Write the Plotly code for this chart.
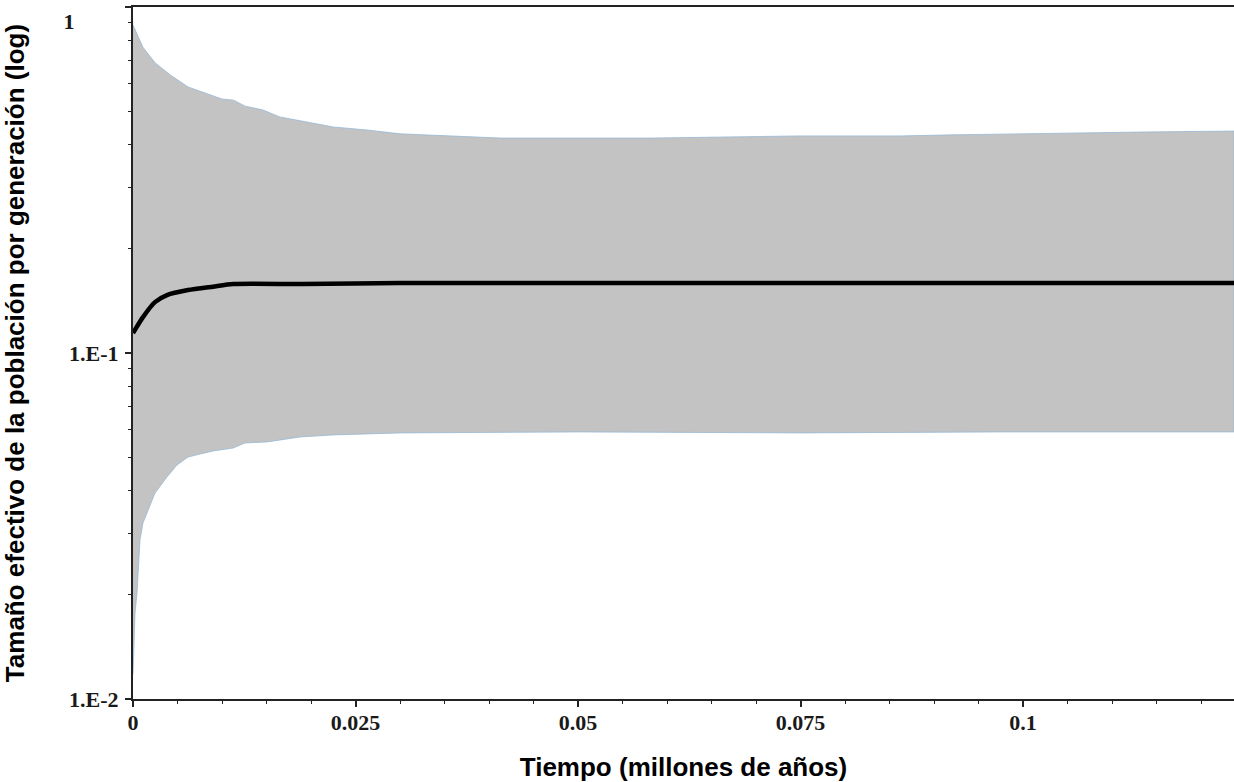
import plotly.graph_objects as go

# Time (millions of years)
t_upper = [0, 0.0011, 0.0025, 0.0042, 0.0062, 0.0075, 0.0100, 0.0113, 0.0126, 0.0146,
           0.0165, 0.0188, 0.0225, 0.0263, 0.0300, 0.0413, 0.0503, 0.0582, 0.0750,
           0.0863, 0.0920, 0.1050, 0.1130, 0.1237]
upper = [0.887, 0.766, 0.689, 0.636, 0.587, 0.572, 0.542, 0.538, 0.517, 0.504,
         0.481, 0.469, 0.450, 0.441, 0.430, 0.418, 0.418, 0.418, 0.424,
         0.424, 0.427, 0.433, 0.435, 0.438]

t_lower = [0, 0.000225, 0.00045, 0.00079, 0.00112, 0.00247, 0.00382, 0.00494, 0.00618,
           0.00753, 0.00899, 0.01124, 0.01258, 0.01506, 0.01876, 0.02247, 0.0300,
           0.0502, 0.0749, 0.0974, 0.1237]
lower = [0.0118, 0.01774, 0.02025, 0.02884, 0.03227, 0.03936, 0.04385, 0.04744, 0.05004,
         0.05105, 0.05209, 0.05314, 0.05495, 0.05534, 0.05718, 0.05797, 0.05875,
         0.05915, 0.05875, 0.05915, 0.05915]

t_median = [0, 0.00112, 0.00247, 0.00382, 0.00618, 0.00899, 0.01124, 0.0190, 0.0300, 0.0600, 0.0900, 0.1237]
median = [0.1142, 0.1270, 0.1403, 0.1470, 0.1520, 0.1555, 0.1582, 0.1582, 0.1593, 0.1593, 0.1593, 0.1593]

y_tickvals = [1, 0.1, 0.01]
y_ticktext = ["\u00a0<br>1" + "\u00a0" * 8, "1.E-1", "1.E-2"]
x_tickvals = [0, 0.025, 0.05, 0.075, 0.1]
x_ticktext = ["0", "0.025", "0.05", "0.075", "0.1"]

band_x = t_upper + t_lower[::-1]
band_y = upper + lower[::-1]

fig = go.Figure()
fig.add_trace(go.Scatter(
    x=band_x, y=band_y, fill="toself", fillcolor="#C3C3C3",
    line=dict(color="rgba(150,185,215,0.8)", width=1),
    mode="lines", hoverinfo="skip", showlegend=False))
fig.add_trace(go.Scatter(
    x=t_median, y=median, mode="lines",
    line=dict(color="black", width=4.5, shape="spline", smoothing=0.6),
    showlegend=False))

tick_font = dict(family="Liberation Serif", size=22, color="#1a1a1a", weight="bold")
title_font = dict(family="Liberation Sans", size=26, color="black", weight="bold")

fig.update_layout(
    width=1234, height=782,
    margin=dict(l=133, r=0, t=7, b=83),
    paper_bgcolor="white", plot_bgcolor="white",
    xaxis=dict(
        range=[0, 0.1237], tickvals=x_tickvals, ticktext=x_ticktext,
        automargin=False,
        ticks="outside", ticklen=6, tickwidth=1.5, tickcolor="#222",
        showline=True, linecolor="#222", linewidth=2, mirror=True,
        showgrid=False, zeroline=False, tickfont=tick_font,
        ticklabelstandoff=-3,
        minor=dict(ticks="outside", ticklen=3, tickwidth=1.2, tickcolor="#222", dtick=0.005, showgrid=False),
        title=dict(text="Tiempo (millones de años)", font=title_font, standoff=27),
    ),
    yaxis=dict(
        type="log", range=[-2, 0], tickvals=y_tickvals, ticktext=y_ticktext,
        automargin=False,
        ticks="outside", ticklen=6, tickwidth=1.5, tickcolor="#222",
        showline=True, linecolor="#222", linewidth=2,
        showgrid=False, zeroline=False, tickfont=tick_font,
        ticklabelstandoff=2, ticklabeloverflow="allow",
        minor=dict(ticks="outside", ticklen=3, tickwidth=1.2, tickcolor="#222", dtick="D1", showgrid=False),
        title=dict(text="Tamaño efectivo de la población por generación (log)", font=title_font, standoff=37),
    ),
)

fig.write_html("out.html", config={"displayModeBar": False},
               post_script="document.body.style.margin='0';document.body.style.overflow='hidden';")
